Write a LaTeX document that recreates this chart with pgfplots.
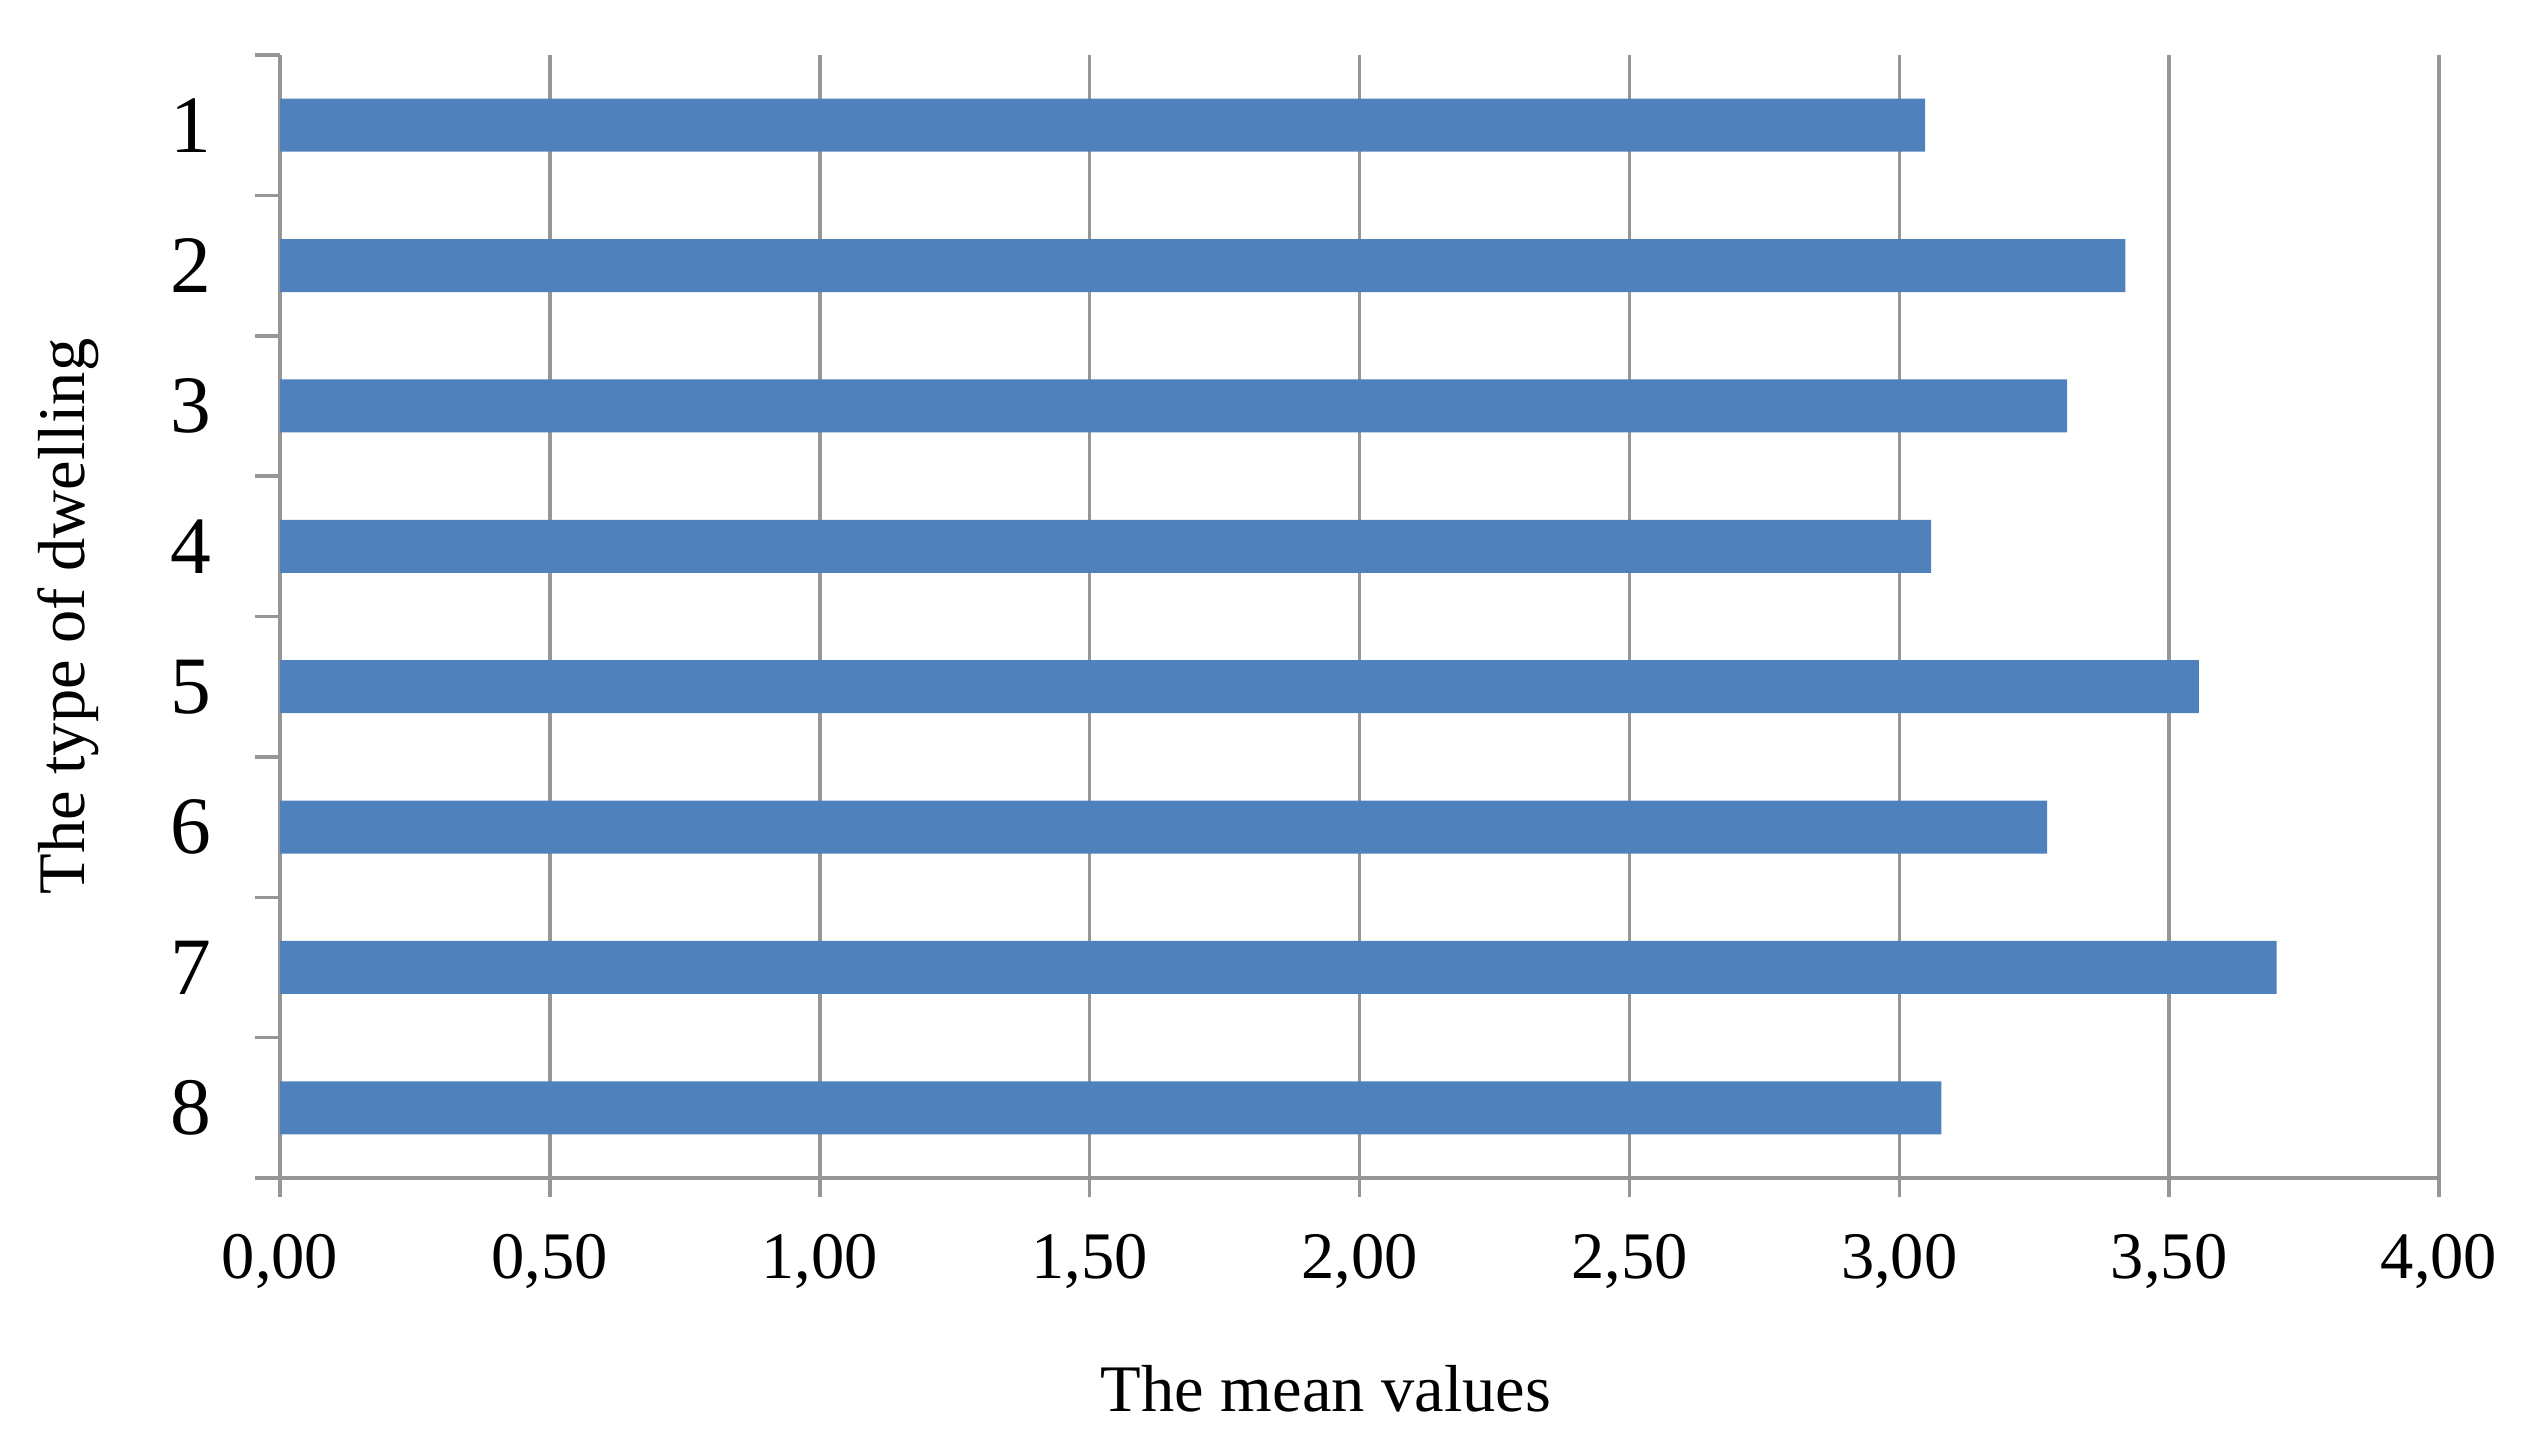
\documentclass[border=0pt]{standalone}
\usepackage{fontspec}
\setmainfont{Liberation Serif}
\usepackage{pgfplots}
\pgfplotsset{compat=1.18}
\definecolor{barblue}{RGB}{79,129,189}
\definecolor{axgray}{RGB}{150,150,150}
\begin{document}
\begin{tikzpicture}
\path[use as bounding box] (-56pt,-54.8pt) rectangle (449.2pt,235.6pt);
\begin{axis}[
  at={(0,0)}, anchor=south west,
  scale only axis,
  width=431.8pt, height=224.6pt,
  xmin=0, xmax=4,
  ymin=0.5, ymax=8.5,
  y dir=reverse,
  xbar, bar width=10.6pt,
  axis x line*=bottom, axis y line*=left,
  axis line style={-, draw=axgray, line width=0.7pt},
  xtick={0,0.5,...,4},
  ytick={1,...,8},
  yticklabels={1,2,3,4,5,6,7,8},
  minor ytick={0.5,1.5,...,8.5},
  tick align=outside,
  major tick length=3.8pt,
  minor tick length=5pt,
  major y tick style={draw=none},
  minor y tick style={draw=axgray, line width=0.7pt},
  major x tick style={draw=axgray, line width=0.7pt},
  xmajorgrids=true,
  grid style={draw=axgray, line width=0.7pt},
  /pgf/number format/.cd, fixed, fixed zerofill, precision=2, use comma, assume math mode=true,
  /pgfplots/.cd,
  ticklabel style={font=\fontsize{13.3}{16}\selectfont},
  xticklabel style={inner sep=0pt, anchor=north, yshift=-7.2pt},
  yticklabel style={inner sep=0pt, anchor=center, xshift=-14pt, font=\fontsize{16.3}{19}\selectfont},
  xlabel={The mean values},
  ylabel={The type of dwelling},
  label style={font=\fontsize{13.3}{16}\selectfont},
  xlabel style={at={(axis description cs:0.4845,-0.1879)}, anchor=center},
  ylabel style={at={(axis description cs:-0.0982,0.5)}, anchor=center},
]
\addplot[draw=none, fill=barblue] coordinates {
  (3.048,1) (3.419,2) (3.311,3) (3.059,4) (3.555,5) (3.274,6) (3.699,7) (3.078,8)
};
\end{axis}
\end{tikzpicture}
\end{document}
